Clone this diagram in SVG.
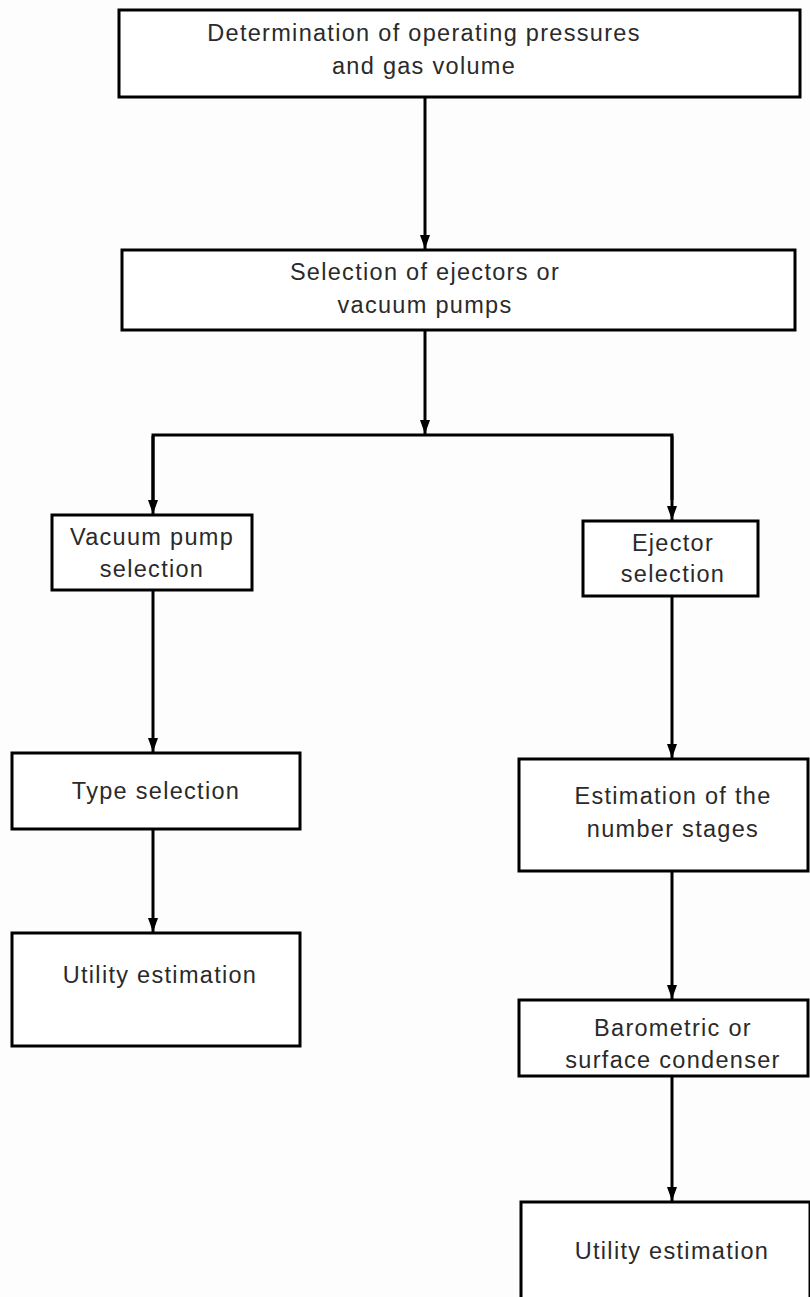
<svg xmlns="http://www.w3.org/2000/svg" width="810" height="1297" viewBox="0 0 810 1297">
<defs>
<style>
.box{fill:#ffffff;stroke:#000;stroke-width:3}
.t{font-family:"Liberation Sans",Arial,sans-serif;font-size:23.5px;fill:#2a2a2a;text-anchor:middle;letter-spacing:1.3px}
.c{fill:none;stroke:#000;stroke-width:3}
</style>
<marker id="ah" viewBox="0 0 14 10" refX="14" refY="5" markerWidth="14" markerHeight="10" markerUnits="userSpaceOnUse" orient="auto">
<path d="M0,0 L14,5 L0,10 Z" fill="#000"/>
</marker>
</defs>
<rect width="810" height="1297" fill="#fdfdfd"/>
<g id="connectors">
<line class="c" x1="425" y1="97" x2="425" y2="249" marker-end="url(#ah)"/>
<line class="c" x1="425" y1="330" x2="425" y2="434" marker-end="url(#ah)"/>
<polyline class="c" points="153,500 153,435 672,435 672,500"/>
<line class="c" x1="153" y1="436" x2="153" y2="514" marker-end="url(#ah)"/>
<line class="c" x1="672" y1="436" x2="672" y2="520" marker-end="url(#ah)"/>
<line class="c" x1="153" y1="590" x2="153" y2="752" marker-end="url(#ah)"/>
<line class="c" x1="153" y1="829" x2="153" y2="932" marker-end="url(#ah)"/>
<line class="c" x1="672" y1="596" x2="672" y2="758" marker-end="url(#ah)"/>
<line class="c" x1="672" y1="871" x2="672" y2="999" marker-end="url(#ah)"/>
<line class="c" x1="672" y1="1076" x2="672" y2="1201" marker-end="url(#ah)"/>
</g>
<g id="n1"><rect class="box" x="119" y="10" width="681" height="87"/>
<text class="t" x="424" y="41">Determination of operating pressures</text>
<text class="t" x="424" y="74">and gas volume</text></g>
<g id="n2"><rect class="box" x="122" y="250" width="673" height="80"/>
<text class="t" x="425" y="280">Selection of ejectors or</text>
<text class="t" x="425" y="313">vacuum pumps</text></g>
<g id="n3"><rect class="box" x="52" y="515" width="200" height="75"/>
<text class="t" x="152" y="545">Vacuum pump</text>
<text class="t" x="152" y="577">selection</text></g>
<g id="n4"><rect class="box" x="583" y="521" width="175" height="75"/>
<text class="t" x="673" y="551">Ejector</text>
<text class="t" x="673" y="582">selection</text></g>
<g id="n5"><rect class="box" x="12" y="753" width="288" height="76"/>
<text class="t" x="156" y="799">Type selection</text></g>
<g id="n6"><rect class="box" x="12" y="933" width="288" height="113"/>
<text class="t" x="160" y="983">Utility estimation</text></g>
<g id="n7"><rect class="box" x="519" y="759" width="289" height="112"/>
<text class="t" x="673" y="804">Estimation of the</text>
<text class="t" x="673" y="837">number stages</text></g>
<g id="n8"><rect class="box" x="519" y="1000" width="289" height="76"/>
<text class="t" x="673" y="1036">Barometric or</text>
<text class="t" x="673" y="1068">surface condenser</text></g>
<g id="n9"><rect class="box" x="521" y="1202" width="289" height="110"/>
<text class="t" x="672" y="1259">Utility estimation</text></g>
</svg>
